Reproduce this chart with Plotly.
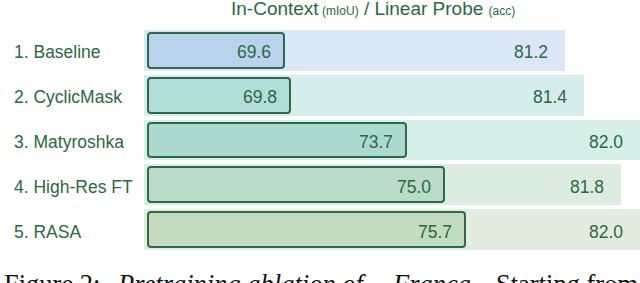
import plotly.graph_objects as go

# ---- data ----
methods = ["1. Baseline", "2. CyclicMask", "3. Matyroshka", "4. High-Res FT", "5. RASA"]
in_context = [69.6, 69.8, 73.7, 75.0, 75.7]      # mIoU
linear_probe = [81.2, 81.4, 82.0, 81.8, 82.0]    # acc

# ---- style ----
inner_colors = ["#b8d3eb", "#b2ddd9", "#acd9cf", "#b9dbc8", "#c3dcc0"]
outer_colors = ["#dbe7f6", "#d5edec", "#d7efe9", "#dcece0", "#e2ede0"]
dark = "#2d6a45"
txt = "#2b6843"
FONT = "Liberation Sans"
SERIF = "Liberation Serif"

W, H = 640, 283
ML, MR, MT, MB = 144, 0, 28, 31
plot_w = W - ML - MR
plot_h = H - MT - MB

LP_RANGE = [76.7, 82.0]
IC_BASE = 65.0
IC_PX = 29.6          # pixels per mIoU unit
IC_INSET = 4          # px
ic_range = [IC_BASE - IC_INSET / IC_PX, IC_BASE + (plot_w - IC_INSET) / IC_PX]

fig = go.Figure()

fig.add_trace(go.Bar(
    y=methods, x=[v - LP_RANGE[0] for v in linear_probe], base=LP_RANGE[0],
    orientation="h", width=0.914,
    marker=dict(color=outer_colors, line=dict(width=0)),
    xaxis="x", yaxis="y", hoverinfo="skip", showlegend=False,
))

fig.add_trace(go.Bar(
    y=methods, x=[v - IC_BASE for v in in_context], base=IC_BASE,
    orientation="h", width=0.78,
    marker=dict(color=inner_colors, line=dict(width=2, color=dark), cornerradius=3),
    xaxis="x2", yaxis="y", hoverinfo="skip", showlegend=False,
))

lab_font = dict(family=FONT, size=17.5, color=txt)
ann = []
for m, v in zip(methods, in_context):
    ann.append(dict(x=v, y=m, xref="x2", yref="y", text=f"{v:.1f}", showarrow=False,
                    xanchor="right", xshift=-11, yshift=-2, font=lab_font))
for m, v in zip(methods, linear_probe):
    ann.append(dict(x=v, y=m, xref="x", yref="y", text=f"{v:.1f}", showarrow=False,
                    xanchor="right", xshift=-15, yshift=-2, font=lab_font))
for m in methods:
    ann.append(dict(x=(12 - ML) / plot_w, y=m, xref="paper", yref="y", text=m, showarrow=False,
                    xanchor="left", yshift=-2, font=lab_font))

# title
ann.append(dict(
    x=(373 - ML) / plot_w, xref="paper", y=1 + (MT - 8) / plot_h, yref="paper",
    xanchor="center", yanchor="middle", showarrow=False,
    text="In-Context<span style='font-size:12px'> (mIoU)</span> / Linear Probe <span style='font-size:12px'>(acc)</span>",
    font=dict(family=FONT, size=19, color=txt)))

# caption (cut off by page bottom)
cap_y = -(284 - (H - MB)) / plot_h
cap_font = dict(family=SERIF, size=26.5, color="#111111")
for xpx, t, anchor in [(2, "Figure 2:", "left"),
                       (115, "<i>Pretraining ablation of</i>", "left"),
                       (390, "<i>Franca</i>.", "left"),
                       (640, "Starting from", "right")]:
    ann.append(dict(x=(xpx - ML) / plot_w, xref="paper", y=cap_y, yref="paper",
                    xanchor=anchor, yanchor="middle", showarrow=False, text=t, font=cap_font))

fig.update_layout(
    width=W, height=H, margin=dict(l=ML, r=MR, t=MT, b=MB, pad=0),
    paper_bgcolor="white", plot_bgcolor="white",
    barmode="overlay", bargap=0,
    xaxis=dict(range=LP_RANGE, visible=False, fixedrange=True),
    xaxis2=dict(range=ic_range, overlaying="x", visible=False, fixedrange=True),
    yaxis=dict(categoryorder="array", categoryarray=methods, autorange="reversed",
               visible=False, fixedrange=True),
    annotations=ann,
)

fig.write_html("out.html", config={"displayModeBar": False},
               post_script="document.body.style.margin='0';document.body.style.overflow='hidden';")
